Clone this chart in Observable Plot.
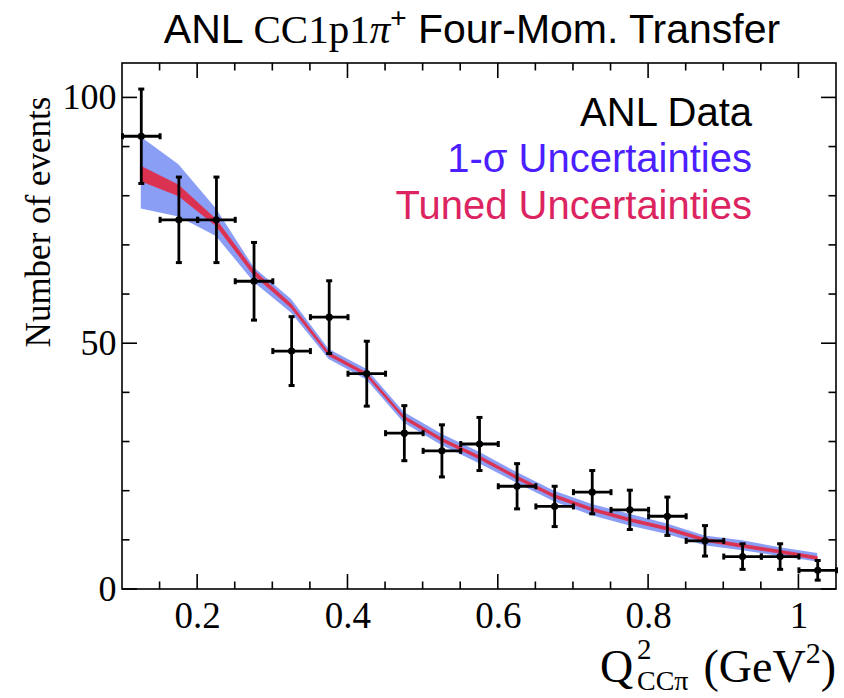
<!DOCTYPE html>
<html><head><meta charset="utf-8">
<script src="https://cdn.jsdelivr.net/npm/d3@7"></script>
<script src="https://cdn.jsdelivr.net/npm/@observablehq/plot@0.6"></script>
<style>body{margin:0;background:#fff}</style>
</head><body><div id="chart"></div>
<script>
// ---- data ----
const binCenter = [0.125,0.175,0.225,0.275,0.325,0.375,0.425,0.475,0.525,0.575,0.625,0.675,0.725,0.775,0.825,0.875,0.925,0.975,1.025];
const binLow    = [0.10,0.15,0.20,0.25,0.30,0.35,0.40,0.45,0.50,0.55,0.60,0.65,0.70,0.75,0.80,0.85,0.90,0.95,1.00];
const binHigh   = [0.15,0.20,0.25,0.30,0.35,0.40,0.45,0.50,0.55,0.60,0.65,0.70,0.75,0.80,0.85,0.90,0.95,1.00,1.05];
const events    = [92.2,75.2,75.2,62.7,48.5,55.4,43.9,31.8,28.2,29.6,21.0,16.9,19.8,16.2,14.9,9.9,6.7,6.7,3.9];
const eventErr  = [9.6,8.7,8.7,7.9,7.0,7.4,6.6,5.6,5.3,5.4,4.6,4.1,4.4,4.0,3.9,3.1,2.6,2.6,2.0];
const sigmaHigh = [92.0,86.4,77.4,65.5,59.0,48.8,44.8,36.0,31.6,27.9,23.8,20.0,17.3,15.3,13.3,10.9,9.9,8.5,7.3];
const sigmaLow  = [77.4,75.8,71.8,62.5,56.2,46.8,42.6,33.8,29.3,25.6,21.6,17.8,15.0,12.9,11.2,8.9,7.9,6.7,5.6];
const tunedHigh = [86.0,82.2,75.2,64.9,58.0,48.1,44.0,35.2,30.7,27.1,23.0,19.2,16.5,14.4,12.6,10.3,9.1,7.9,6.6];
const tunedLow  = [83.0,80.0,73.9,63.9,57.2,47.5,43.4,34.6,30.1,26.5,22.4,18.6,15.9,13.8,12.0,9.7,8.5,7.3,6.0];

const xTicks = [0.2,0.4,0.6,0.8,1];
const xTickLabels = ["0.2","0.4","0.6","0.8","1"];
const xMinorTicks = [0.15,0.25,0.3,0.35,0.45,0.5,0.55,0.65,0.7,0.75,0.85,0.9,0.95];
const yTicks = [0,50,100];
const yTickLabels = ["0","50","100"];
const yMinorTicks = [10,20,30,40,60,70,80,90];

const titleText = {pre: "ANL ", tex: "CC1p1", pi: "π", sup: "+", post: " Four-Mom. Transfer"};
const legendItems = [
  {label: "ANL Data", color: "#000000"},
  {label: "1-σ Uncertainties", color: "#4b1fff"},
  {label: "Tuned Uncertainties", color: "#dc2461"}
];
const yLabel = "Number of events";

// ---- tables ----
const points = binCenter.map((q, i) => ({q, lo: binLow[i], hi: binHigh[i], n: events[i], e: eventErr[i]}));
const band = binCenter.map((q, i) => ({q, sLo: sigmaLow[i], sHi: sigmaHigh[i], tLo: tunedLow[i], tHi: tunedHigh[i]}));

const hCap = {draw(ctx, size) { const r = Math.sqrt(size / Math.PI); ctx.moveTo(-r, 0); ctx.lineTo(r, 0); }};
const vCap = {draw(ctx, size) { const r = Math.sqrt(size / Math.PI); ctx.moveTo(0, -r); ctx.lineTo(0, r); }};

const W = 844, H = 698;
const M = {top: 63, right: 8, bottom: 109, left: 122};
const SANS = "Liberation Sans, Arial, sans-serif";
const SERIF = "Liberation Serif, serif";

function frameAndTicks(index, scales, values, dims) {
  const x = scales.x, y = scales.y;
  const x0 = dims.marginLeft, x1 = dims.width - dims.marginRight;
  const y0 = dims.marginTop, y1 = dims.height - dims.marginBottom;
  const g = d3.create("svg:g").attr("stroke", "black").attr("fill", "none").attr("stroke-width", 1.6);
  const big = 15, small = 7.5;
  for (const t of xTicks) {
    g.append("line").attr("x1", x(t)).attr("x2", x(t)).attr("y1", y1).attr("y2", y1 - big);
    g.append("line").attr("x1", x(t)).attr("x2", x(t)).attr("y1", y0).attr("y2", y0 + big);
  }
  for (const t of xMinorTicks) {
    g.append("line").attr("x1", x(t)).attr("x2", x(t)).attr("y1", y1).attr("y2", y1 - small);
    g.append("line").attr("x1", x(t)).attr("x2", x(t)).attr("y1", y0).attr("y2", y0 + small);
  }
  for (const t of yTicks) {
    g.append("line").attr("y1", y(t)).attr("y2", y(t)).attr("x1", x0).attr("x2", x0 + big);
    g.append("line").attr("y1", y(t)).attr("y2", y(t)).attr("x1", x1).attr("x2", x1 - big);
  }
  for (const t of yMinorTicks) {
    g.append("line").attr("y1", y(t)).attr("y2", y(t)).attr("x1", x0).attr("x2", x0 + small);
    g.append("line").attr("y1", y(t)).attr("y2", y(t)).attr("x1", x1).attr("x2", x1 - small);
  }
  g.append("rect").attr("x", x0).attr("y", y0).attr("width", x1 - x0).attr("height", y1 - y0);
  return g.node();
}

function texts(index, scales, values, dims) {
  const x1 = dims.width - dims.marginRight;
  const g = d3.create("svg:g").attr("text-anchor", "start");
  // title
  const t = g.append("text").attr("x", 472).attr("y", 43).attr("text-anchor", "middle")
    .attr("font-family", SANS).attr("font-size", 41).attr("fill", "black");
  t.append("tspan").text(titleText.pre);
  t.append("tspan").attr("font-family", SERIF).text(titleText.tex);
  t.append("tspan").attr("font-family", SERIF).attr("font-style", "italic").text(titleText.pi);
  t.append("tspan").attr("font-size", 28).attr("dy", -16).text(titleText.sup);
  t.append("tspan").attr("dy", 16).text(titleText.post);
  // legend
  const baselines = [126, 172, 219];
  legendItems.forEach((d, i) => {
    g.append("text").attr("x", 752).attr("y", baselines[i]).attr("text-anchor", "end")
      .attr("font-family", SANS).attr("font-size", 40)
      .attr("fill", d.color).text(d.label);
  });
  // y label
  g.append("text").attr("transform", "translate(50,222) rotate(-90)").attr("text-anchor", "middle")
    .attr("font-family", SERIF).attr("font-size", 35).attr("fill", "black").text(yLabel);
  // x label
  g.append("text").attr("x", 600).attr("y", 682).attr("text-anchor", "start").attr("font-family", SERIF).attr("font-size", 46).text("Q");
  g.append("text").attr("x", 637).attr("y", 659).attr("text-anchor", "start").attr("font-family", SERIF).attr("font-size", 29).text("2");
  g.append("text").attr("x", 637).attr("y", 690).attr("text-anchor", "start").attr("font-family", SERIF).attr("font-size", 28).text("CCπ");
  const u = g.append("text").attr("x", x1).attr("y", 682).attr("text-anchor", "end")
    .attr("font-family", SERIF).attr("font-size", 46);
  u.append("tspan").text("(GeV");
  u.append("tspan").attr("font-size", 30).attr("dy", -19).text("2");
  u.append("tspan").attr("dy", 19).text(")");
  return g.node();
}

const chart = Plot.plot({
  width: W, height: H,
  marginTop: M.top, marginRight: M.right, marginBottom: M.bottom, marginLeft: M.left,
  style: {background: "white", fontFamily: SERIF},
  x: {domain: [0.1, 1.05]},
  y: {domain: [0, 107]},
  marks: [
    Plot.areaY(band, {x: "q", y1: "sLo", y2: "sHi", fill: "#8b9ef6"}),
    Plot.areaY(band, {x: "q", y1: "tLo", y2: "tHi", fill: "#dc3252", stroke: "#dc3252", strokeWidth: 0.8}),
    Plot.ruleX(points, {x: "q", y1: d => d.n - d.e, y2: d => d.n + d.e, stroke: "black", strokeWidth: 2.8}),
    Plot.ruleY(points, {y: "n", x1: "lo", x2: "hi", stroke: "black", strokeWidth: 2.8}),
    Plot.dot(points, {x: "q", y: d => d.n - d.e, symbol: hCap, r: 3, stroke: "black", strokeWidth: 3, fill: "none"}),
    Plot.dot(points, {x: "q", y: d => d.n + d.e, symbol: hCap, r: 3, stroke: "black", strokeWidth: 3, fill: "none"}),
    Plot.dot(points, {x: "lo", y: "n", symbol: vCap, r: 3, stroke: "black", strokeWidth: 3, fill: "none"}),
    Plot.dot(points, {x: "hi", y: "n", symbol: vCap, r: 3, stroke: "black", strokeWidth: 3, fill: "none"}),
    Plot.dot(points, {x: "q", y: "n", r: 3.6, fill: "black"}),
    frameAndTicks,
    Plot.axisX({ticks: xTicks, tickFormat: d => xTickLabels[xTicks.indexOf(d)], tickSize: 0, tickPadding: 12,
      fontSize: 37, fontFamily: SERIF, label: null, fill: "black"}),
    Plot.axisY({ticks: yTicks, tickFormat: d => yTickLabels[yTicks.indexOf(d)], tickSize: 0, tickPadding: 6,
      fontSize: 36, fontFamily: SERIF, label: null, fill: "black"}),
    texts
  ]
});
document.getElementById("chart").appendChild(chart);
</script>
</body></html>
